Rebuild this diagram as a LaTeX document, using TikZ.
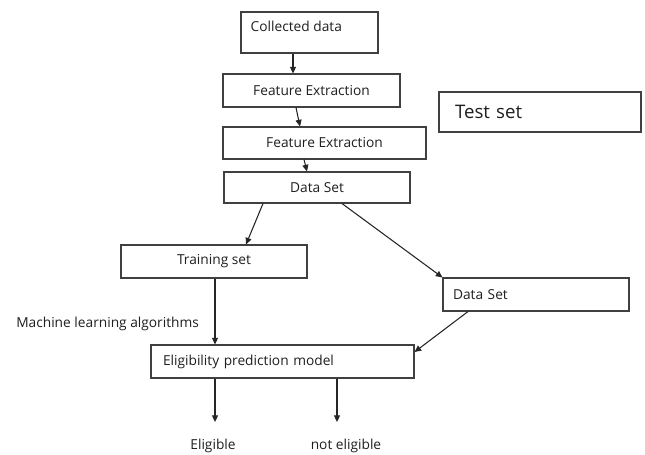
\documentclass[tikz,border=0pt]{standalone}
\usepackage{fontspec}
\setmainfont{Open Sans}
\usetikzlibrary{arrows.meta}
\begin{document}
\begin{tikzpicture}[x=0.75pt,y=-0.75pt,
  txt/.style={font=\fontsize{10.3pt}{12pt}\selectfont, text=black!88},
  box/.style 2 args={draw=black!75, line width=0.8pt, txt,
    minimum width=#1*0.75pt, minimum height=#2*0.75pt, inner sep=0pt},
  lbox/.style n args={3}{box={#1}{#2}, align=left,
    text width=(#1-2*#3)*0.75pt},
  arr/.style={draw=black!85, line width=0.8pt,
    -{Triangle[width=4.5pt,length=5pt]}}]
\useasboundingbox (0,0) rectangle (645,454);
\fill[white] (0,0) rectangle (645,454);

% boxes
\node[box={137}{41},
  label={[txt, anchor=north west, inner sep=0pt, xshift=7.5pt, yshift=-6.8pt]north west:Collected data}]
  (cd) at (309.5,32.5) {};
\node[box={177}{33}] (fe1) at (311.5,90.5) {Feature Extraction};
\node[box={203}{32}] (fe2) at (324.5,143) {Feature Extraction};
\node[box={186}{31}] (ds) at (317,187.5) {Data Set};
\node[lbox={202}{40}{16}, font=\fontsize{14pt}{16pt}\selectfont] (ts) at (540,112) {Test set};
\node[box={186}{33}] (tr) at (214,261.5) {Training set};
\node[lbox={186}{33}{10}] (ds2) at (536,294.5) {Data Set};
\node[lbox={263}{33}{12}] (ep) at (282.5,361.5) {Eligibility prediction model};

% free labels
\node[txt, anchor=west, inner sep=0pt] (ml) at (16,324) {Machine learning algorithms};
\coordinate (o1) at (215,422);
\coordinate (o2) at (337,422);
\node[txt] (el) at (213,446) {Eligible};
\node[txt] (nel) at (346,446) {not eligible};

% connectors
\draw[arr] (cd.south -| 293,0) -- (fe1.north -| 293,0);
\draw[arr] (fe1.south -| 296,0) -- (fe2.north -| 300,0);
\draw[arr] (fe2.south -| 304,0) -- (ds.north -| 307,0);
\draw[arr] (ds.south -| 263,0) -- (tr.north -| 246,0);
\draw[arr] (ds.south -| 342,0) -- (ds2.north west);
\draw[arr] (tr.south -| 215,0) -- (ep.north -| 215,0);
\draw[arr] (ds2.south -| 468,0) -- (ep.east |- 0,352);
\draw[arr] (ep.south -| 215,0) -- (o1);
\draw[arr] (ep.south -| 337,0) -- (o2);
\end{tikzpicture}
\end{document}
